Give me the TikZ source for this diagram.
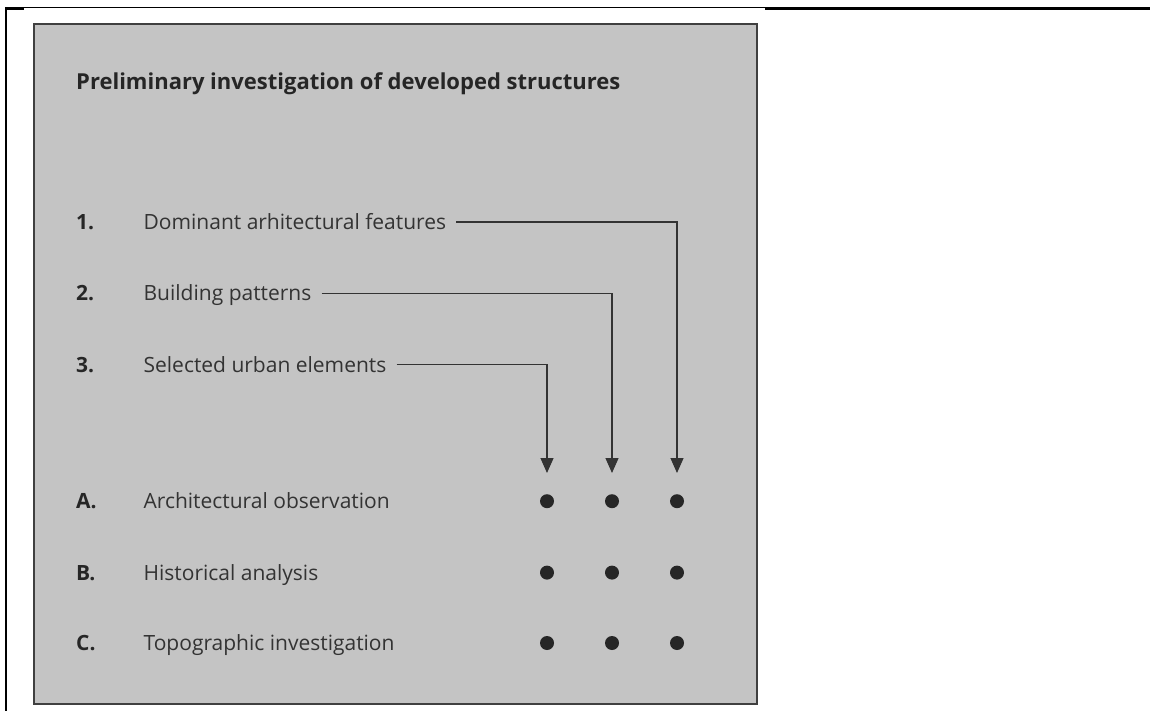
\documentclass[tikz,border=0pt]{standalone}
\usepackage{fontspec}
\setmainfont{Open Sans}
\usepackage{xcolor}
\usepackage{tikz}
\usetikzlibrary{arrows.meta, positioning}

\definecolor{panelgray}{HTML}{C4C4C4}
\definecolor{inkgray}{HTML}{333333}

\begin{document}
\begin{tikzpicture}[
    x=1pt, y=-1pt,
    font=\fontsize{21}{25}\selectfont,
    num/.style={text width=18pt, align=left, inner sep=0pt, text height=15pt, text depth=0pt, font=\fontsize{21}{25}\selectfont\bfseries, text=black!85},
    item/.style={inner sep=0pt, text height=15pt, text depth=0pt, text=inkgray},
    dot/.style={circle, fill=black!85, inner sep=0pt, minimum size=14pt},
    connection/.style={-{Triangle[width=13pt,length=15pt]}, line width=1.2pt, color=inkgray, shorten <=10pt, shorten >=21pt},
]
    \useasboundingbox (0,0) rectangle (1150,711);

    % Page frame and panel
    \draw[line width=1pt] (5,8) -- (765,8);
    \draw[line width=2.2pt] (765,8.5) -- (1150,8.5);
    \draw[line width=2pt] (5,9) -- (24,9);
    \draw[line width=2pt] (6,8) -- (6,711);
    \draw[draw=black!75, line width=1.5pt, fill=panelgray] (34,24) rectangle (757,704);

    % Title
    \node[anchor=base west, inner sep=0pt, font=\fontsize{22}{26}\selectfont\bfseries, text=black!85] (title) at (76,90) {Preliminary investigation of developed structures};

    % Items 1-3
    \node[num, anchor=west] (n1) at (76,222) {1.};
    \node[item, right=49pt of n1] (t1) {Dominant arhitectural features};
    \node[num, below=56pt of n1] (n2) {2.};
    \node[item, right=49pt of n2] (t2) {Building patterns};
    \node[num, below=56pt of n2] (n3) {3.};
    \node[item, right=49pt of n3] (t3) {Selected urban elements};

    % Items A-C
    \node[num, below=121pt of n3] (nA) {A.};
    \node[item, right=49pt of nA] (tA) {Architectural observation};
    \node[num, below=56pt of nA] (nB) {B.};
    \node[item, right=49pt of nB] (tB) {Historical analysis};
    \node[num, below=55pt of nB] (nC) {C.};
    \node[item, right=49pt of nC] (tC) {Topographic investigation};

    % Dots
    \node[dot] (dA1) at (nA -| 547,0) {};
    \node[dot] (dA2) at (nA -| 612,0) {};
    \node[dot] (dA3) at (nA -| 677,0) {};
    \node[dot] (dB1) at (nB -| 547,0) {};
    \node[dot] (dB2) at (nB -| 612,0) {};
    \node[dot] (dB3) at (nB -| 677,0) {};
    \node[dot] (dC1) at (nC -| 547,0) {};
    \node[dot] (dC2) at (nC -| 612,0) {};
    \node[dot] (dC3) at (nC -| 677,0) {};

    % Connections
    \draw[connection] (t1) -| (dA3);
    \draw[connection] (t2) -| (dA2);
    \draw[connection] (t3) -| (dA1);
\end{tikzpicture}
\end{document}
